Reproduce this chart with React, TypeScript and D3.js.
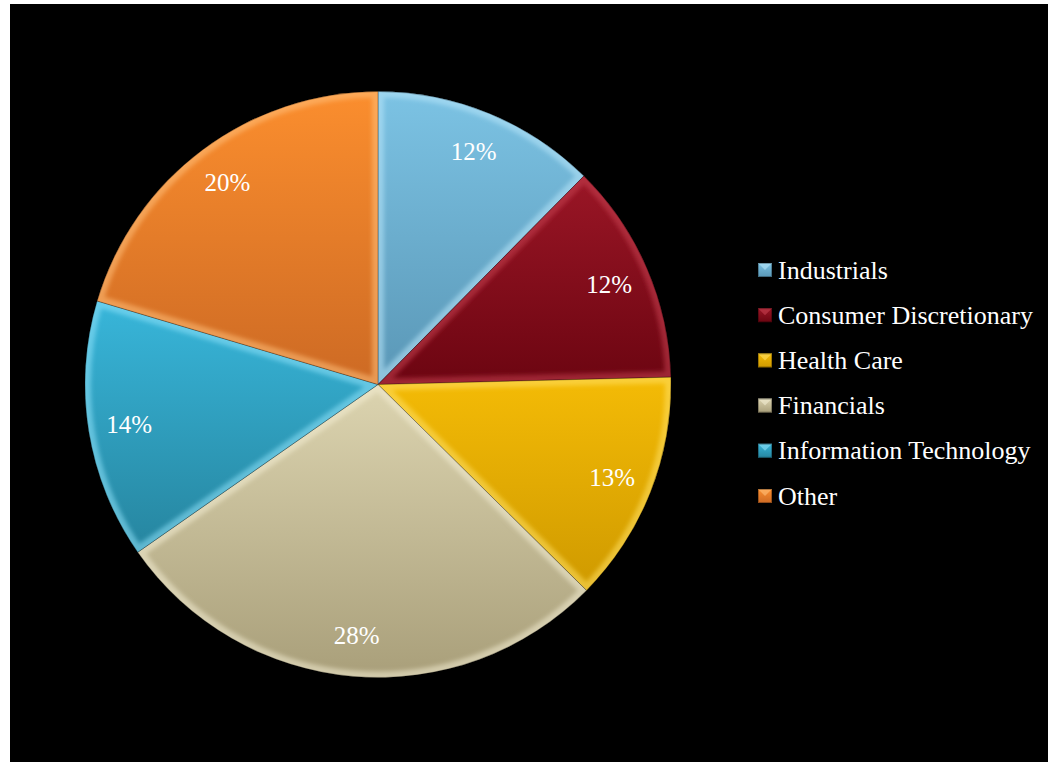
import React from "react";
import * as d3 from "d3";

const categories = ["Industrials", "Consumer Discretionary", "Health Care", "Financials", "Information Technology", "Other"];
const values = [12.4, 12.2, 12.8, 27.9, 14.3, 20.4];
const labels = ["12%", "12%", "13%", "28%", "14%", "20%"];
const topColors = ["#7cc3e4", "#9a1626", "#f4bb06", "#dcd4b0", "#38b6da", "#fb8e2e"];
const bottomColors = ["#5a97b6", "#6c0511", "#cf9a00", "#a99f7a", "#26859f", "#cd6a24"];
const lightColors = ["#b8e6fa", "#c4404e", "#ffe060", "#f2ecd2", "#8ee2fa", "#ffc07a"];

const W = 1048;
const H = 762;
const cx = 378;
const cy = 384.5;
const R = 293;
const FONT = '"Times New Roman", Times, "Liberation Serif", "DejaVu Serif", serif';

export default function App() {
  const pie = d3.pie<number>().sort(null).value((d) => d)(values);
  const arc = d3.arc<d3.PieArcDatum<number>>().innerRadius(0).outerRadius(R);
  const labelArc = d3.arc<d3.PieArcDatum<number>>().innerRadius(R * 0.86).outerRadius(R * 0.86);
  const legendY = d3.scaleLinear().domain([0, categories.length - 1]).range([270, 496]);

  return (
    <svg width={W} height={H} style={{ position: "fixed", left: 0, top: 0 }} xmlns="http://www.w3.org/2000/svg">
      <defs>
        {categories.map((c, i) => (
          <linearGradient key={"g" + i} id={"grad" + i} x1="0" y1="0" x2="0" y2="1">
            <stop offset="0" stopColor={topColors[i]} />
            <stop offset="1" stopColor={bottomColors[i]} />
          </linearGradient>
        ))}
        {pie.map((p, i) => (
          <clipPath key={"c" + i} id={"clip" + i}>
            <path d={arc(p) || ""} transform={`translate(${cx},${cy})`} />
          </clipPath>
        ))}
        <filter id="blur" x="-10%" y="-10%" width="120%" height="120%">
          <feGaussianBlur stdDeviation="2" />
        </filter>
      </defs>
      <rect x={0} y={0} width={W} height={H} fill="#fff" />
      <rect x={10} y={4} width={W - 10} height={H - 4} fill="#000" />

      {pie.map((p, i) => (
        <g key={"s" + i}>
          <path d={arc(p) || ""} transform={`translate(${cx},${cy})`} fill={`url(#grad${i})`} />
          <g clipPath={`url(#clip${i})`}>
            <path
              d={arc(p) || ""}
              transform={`translate(${cx},${cy})`}
              fill="none"
              stroke={lightColors[i]}
              strokeWidth={12}
              strokeOpacity={0.55}
              filter="url(#blur)"
            />
          </g>
          <path
            d={arc(p) || ""}
            transform={`translate(${cx},${cy})`}
            fill="none"
            stroke="#000"
            strokeOpacity={0.35}
            strokeWidth={0.8}
          />
        </g>
      ))}

      {pie.map((p, i) => {
        const [lx, ly] = labelArc.centroid(p);
        return (
          <text
            key={"l" + i}
            x={cx + lx}
            y={cy + ly}
            dy="0.35em"
            textAnchor="middle"
            fill="#fff"
            style={{ fontFamily: FONT, fontSize: "25px" }}
          >
            {labels[i]}
          </text>
        );
      })}

      {categories.map((c, i) => {
        const y = legendY(i);
        const s = 14;
        const x0 = 758;
        const y0 = y - s / 2;
        return (
          <g key={"lg" + i}>
            <rect x={x0} y={y0} width={s} height={s} fill={`url(#grad${i})`} />
            <path
              d={`M${x0},${y0}L${x0 + s},${y0}L${x0 + s / 2},${y0 + s / 2}Z`}
              fill={lightColors[i]}
              fillOpacity={0.6}
            />
            <rect x={x0 + 0.5} y={y0 + 0.5} width={s - 1} height={s - 1} fill="none" stroke="#000" strokeOpacity={0.3} strokeWidth={1} />
            <text
              x={778}
              y={y}
              dy="0.33em"
              fill="#fff"
              style={{ fontFamily: FONT, fontSize: "26px" }}
            >
              {c}
            </text>
          </g>
        );
      })}
    </svg>
  );
}
